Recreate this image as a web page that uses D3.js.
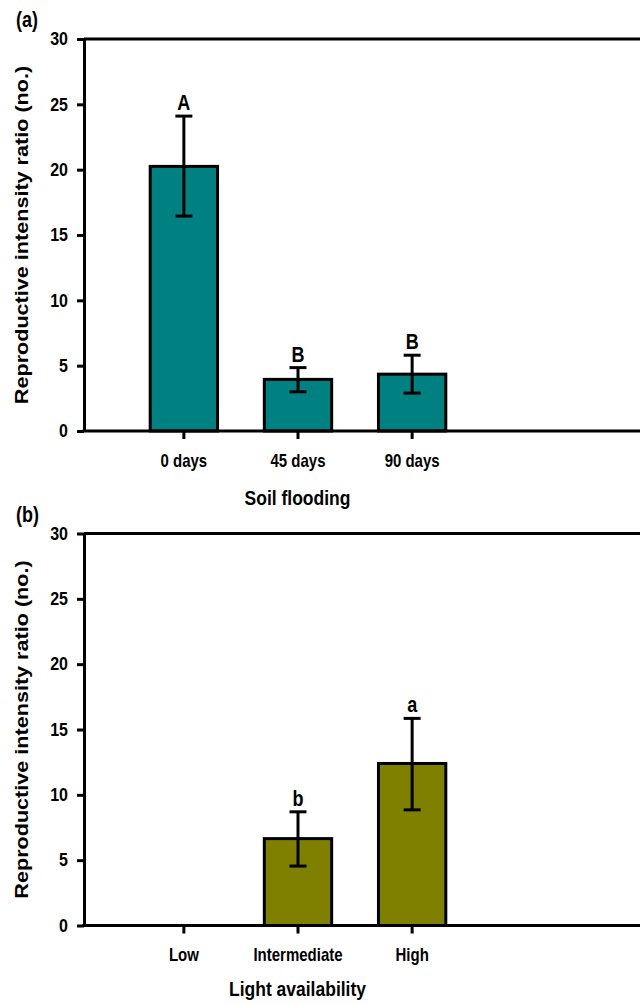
<!DOCTYPE html>
<html>
<head>
<meta charset="utf-8">
<script src="https://cdnjs.cloudflare.com/ajax/libs/d3/7.8.5/d3.min.js"></script>
<style>
  body { margin: 0; background: #fff; }
  text { font-family: "Liberation Sans", Arial, sans-serif; font-weight: bold; fill: #000; }
</style>
</head>
<body>
<svg id="chart"></svg>
<script>
// panel (a) soil flooding
var floodCats = ["0 days", "45 days", "90 days"];
var floodMeans = [20.25, 3.95, 4.35];
var floodUpper = [24.1, 4.85, 5.8];
var floodLower = [16.45, 3.0, 2.9];
var floodLetters = ["A", "B", "B"];

// panel (b) light availability
var lightCats = ["Low", "Intermediate", "High"];
var lightMeans = [0, 6.65, 12.4];
var lightUpper = [null, 8.7, 15.85];
var lightLower = [null, 4.55, 8.85];
var lightLetters = ["", "b", "a"];

var yTicks = [0, 5, 10, 15, 20, 25, 30];

var screen = { width: 640, height: 1004 };
var stretch = 1.2; // the figure's text is drawn taller than it is wide

var svg = d3.select("#chart").attr("width", screen.width).attr("height", screen.height);

// put a text at x,y, stretched vertically
var tallText = function (g, x, y, size, str, anchor) {
  return g.append("text")
    .attr("transform", "translate(" + x + "," + y + ") scale(1," + stretch + ")")
    .attr("text-anchor", anchor || "start")
    .style("font-size", size + "px")
    .text(str);
};

var drawPanel = function (top, tag, cats, means, upper, lower, letters, fill, xtitle, titleGap) {
  var graph = { height: 392 };

  var g = svg.append("g").attr("transform", "translate(0," + top + ")");

  var xScale = d3.scaleBand()
    .domain(cats)
    .range([84, 512])
    .paddingInner(0.41)
    .paddingOuter(0.58);
  var yScale = d3.scaleLinear().domain([0, 30]).range([graph.height, 0]);

  var data = cats.map(function (c, i) {
    return { cat: c, mean: means[i], hi: upper[i], lo: lower[i], letter: letters[i] };
  });

  // bars
  g.selectAll("rect.bar")
    .data(data.filter(function (d) { return d.mean > 0; }))
    .enter()
    .append("rect")
    .classed("bar", true)
    .attr("x", function (d) { return xScale(d.cat); })
    .attr("width", xScale.bandwidth())
    .attr("y", function (d) { return yScale(d.mean); })
    .attr("height", function (d) { return yScale(0) - yScale(d.mean); })
    .attr("fill", fill)
    .attr("stroke", "#000")
    .attr("stroke-width", 3);

  // error bars
  var eb = data.filter(function (d) { return d.hi != null; });
  var cx = function (d) { return xScale(d.cat) + xScale.bandwidth() / 2; };
  g.selectAll("line.err")
    .data(eb).enter().append("line")
    .attr("x1", cx).attr("x2", cx)
    .attr("y1", function (d) { return yScale(d.hi); })
    .attr("y2", function (d) { return yScale(d.lo); })
    .attr("stroke", "#000").attr("stroke-width", 3);
  ["hi", "lo"].forEach(function (k) {
    g.selectAll("line.cap" + k)
      .data(eb).enter().append("line")
      .attr("x1", function (d) { return cx(d) - 8.5; })
      .attr("x2", function (d) { return cx(d) + 8.5; })
      .attr("y1", function (d) { return yScale(d[k]); })
      .attr("y2", function (d) { return yScale(d[k]); })
      .attr("stroke", "#000").attr("stroke-width", 3);
  });

  // letters over the error bars
  eb.forEach(function (d) {
    tallText(g, cx(d), yScale(d.hi) - 6, 18, d.letter, "middle");
  });

  // top frame line
  g.append("line")
    .attr("x1", 84).attr("x2", 660)
    .attr("y1", yScale(30)).attr("y2", yScale(30))
    .attr("stroke", "#000").attr("stroke-width", 3);

  // y axis
  var yAxis = d3.axisLeft(yScale).tickValues(yTicks).tickSize(7).tickPadding(9).tickSizeOuter(0);
  var yg = g.append("g").attr("transform", "translate(84,0)").call(yAxis);
  yg.select(".domain").attr("stroke-width", 3);
  yg.selectAll(".tick line").attr("stroke-width", 3);
  yg.selectAll(".tick text")
    .style("font-size", "16px")
    .attr("dy", null)
    .attr("y", 4.8)
    .attr("transform", "scale(1," + stretch + ")");

  // x axis
  var xAxis = d3.axisBottom(xScale).tickSize(8).tickPadding(18).tickSizeOuter(0);
  var xg = g.append("g").attr("transform", "translate(0," + graph.height + ")").call(xAxis);
  xg.select(".domain").attr("d", "M82.5,0H660").attr("stroke-width", 3);
  xg.selectAll(".tick line").attr("stroke-width", 3);
  xg.selectAll(".tick text")
    .style("font-size", "15px")
    .attr("dy", null)
    .attr("y", 36 / stretch)
    .attr("transform", "scale(1," + stretch + ")");

  // axis titles
  tallText(g, 297.5, graph.height + titleGap, 17.5, xtitle, "middle");

  g.append("text")
    .attr("transform", "translate(28," + (graph.height / 2) + ") rotate(-90) scale(" + stretch + ",1)")
    .attr("text-anchor", "middle")
    .style("font-size", "18px")
    .text("Reproductive intensity ratio (no.)");

  tallText(g, 16, -12, 18, tag, "start");
};

drawPanel(39, "(a)", floodCats, floodMeans, floodUpper, floodLower, floodLetters, "#008080", "Soil flooding", 74);
drawPanel(533.5, "(b)", lightCats, lightMeans, lightUpper, lightLower, lightLetters, "#808000", "Light availability", 70);
</script>
</body>
</html>
